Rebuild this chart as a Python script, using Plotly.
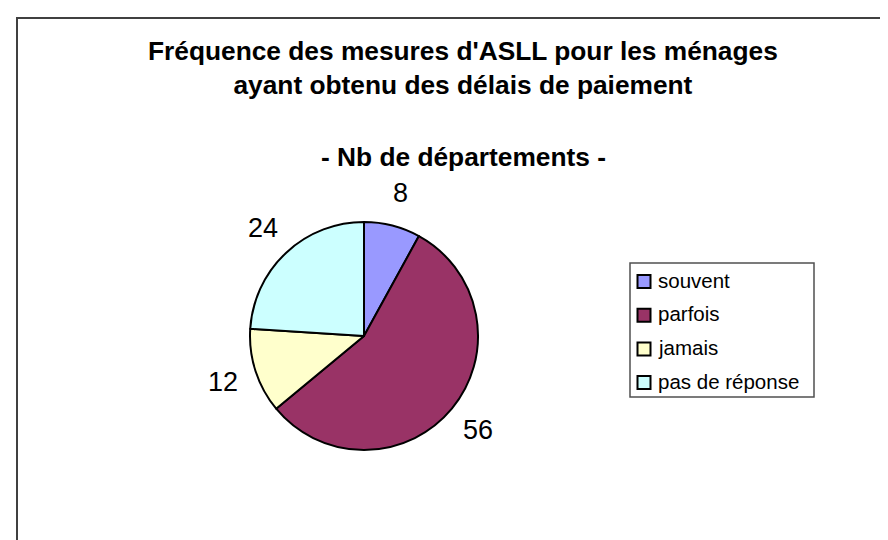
import math
import plotly.graph_objects as go

# ---- data ----
categories = ["souvent", "parfois", "jamais", "pas de réponse"]
values = [8, 56, 12, 24]
colors = ["#9999FF", "#993366", "#FFFFCC", "#CCFFFF"]

title_lines = ["Fréquence des mesures d'ASLL pour les ménages",
               "ayant obtenu des délais de paiement"]
subtitle = "- Nb de départements -"

# ---- layout constants (pixels) ----
W, H = 888, 540
CX, CY, R = 356, 328, 114
LABEL_R = 148
FONT = "Arial, Liberation Sans, sans-serif"

# legend box geometry (pixels)
LEG_X0, LEG_X1, LEG_Y0, LEG_Y1 = 622, 806, 255, 389
LEG_ROW0, LEG_STEP = 272, 33.7
LEG_SYM_X, LEG_SYM = 636, 13
LEG_TEXT_X = 648


def px_x(x):
    return x / W


def px_y(y):
    return 1 - y / H


fig = go.Figure()
fig.add_trace(go.Pie(
    labels=categories,
    values=values,
    sort=False,
    direction="clockwise",
    rotation=0,
    marker=dict(colors=colors, line=dict(color="black", width=2)),
    textinfo="none",
    hoverinfo="label+value",
    showlegend=False,
    domain=dict(x=[px_x(CX - R), px_x(CX + R)], y=[px_y(CY + R), px_y(CY - R)]),
))

annotations = []
shapes = []

# value labels placed radially outside, derived from the data
total = sum(values)
cum = 0
for v in values:
    mid = (cum + v / 2) / total * 2 * math.pi
    cum += v
    lx = CX + LABEL_R * math.sin(mid)
    ly = CY - LABEL_R * math.cos(mid)
    annotations.append(dict(
        x=px_x(lx), y=px_y(ly), xref="paper", yref="paper",
        text=str(v), showarrow=False, xanchor="center", yanchor="middle",
        font=dict(family=FONT, size=27, color="black"),
    ))

# titles
annotations.append(dict(
    x=px_x(455), y=px_y(60), xref="paper", yref="paper",
    text="<br>".join(f"<b>{t}</b>" for t in title_lines), showarrow=False,
    xanchor="center", yanchor="middle",
    font=dict(family=FONT, size=26.3, color="black"),
))
annotations.append(dict(
    x=px_x(455), y=px_y(149), xref="paper", yref="paper",
    text=f"<b>{subtitle}</b>", showarrow=False,
    xanchor="center", yanchor="middle",
    font=dict(family=FONT, size=26.3, color="black"),
))

# chart-area frame
shapes.append(dict(
    type="rect", xref="paper", yref="paper",
    x0=px_x(9), x1=1.05, y0=-0.05, y1=px_y(10),
    line=dict(color="#404040", width=2),
))

# legend (Excel style): frame, colour squares, labels
shapes.append(dict(
    type="rect", xref="paper", yref="paper",
    x0=px_x(LEG_X0), x1=px_x(LEG_X1), y0=px_y(LEG_Y1), y1=px_y(LEG_Y0),
    line=dict(color="#505050", width=1.5), fillcolor="white", layer="below",
))
for i, (cat, col) in enumerate(zip(categories, colors)):
    cy = LEG_ROW0 + LEG_STEP * i
    shapes.append(dict(
        type="rect", xref="paper", yref="paper",
        x0=px_x(LEG_SYM_X - LEG_SYM / 2), x1=px_x(LEG_SYM_X + LEG_SYM / 2),
        y0=px_y(cy + 1.5 + LEG_SYM / 2), y1=px_y(cy + 1.5 - LEG_SYM / 2),
        line=dict(color="black", width=2), fillcolor=col,
    ))
    annotations.append(dict(
        x=px_x(LEG_TEXT_X), y=px_y(cy), xref="paper", yref="paper",
        text=cat, showarrow=False, xanchor="left", yanchor="middle",
        font=dict(family=FONT, size=20.5, color="black"),
    ))

fig.update_layout(
    width=W, height=H,
    margin=dict(l=0, r=0, t=0, b=0),
    paper_bgcolor="white",
    plot_bgcolor="white",
    annotations=annotations,
    shapes=shapes,
    showlegend=False,
)

fig.write_html("out.html")
